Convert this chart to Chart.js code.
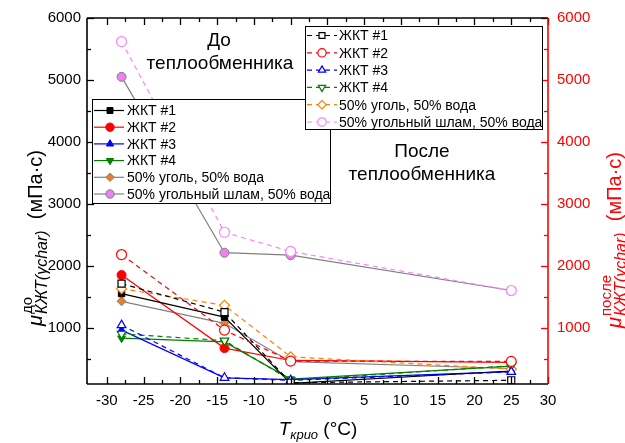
<!DOCTYPE html>
<html>
<head>
<meta charset="utf-8">
<script src="https://cdn.jsdelivr.net/npm/chart.js@4/dist/chart.umd.min.js"></script>
<style>
  html, body { margin: 0; padding: 0; background: #fff; }
  #wrap { width: 625px; height: 443px; position: relative; }
</style>
</head>
<body>
<div id="wrap"><canvas id="chart"></canvas></div>
<script>
const temps = [-28, -14, -5, 25];
const names = ["ЖКТ #1", "ЖКТ #2", "ЖКТ #3", "ЖКТ #4", "50% уголь, 50% вода", "50% угольный шлам, 50% вода"];

// вязкость до теплообменника, мПа·с
const before1 = [1550, 1170, 100, 300];
const before2 = [1850, 670, 470, 440];
const before3 = [960, 190, 160, 290];
const before4 = [830, 770, 170, 380];
const beforeCoal = [1425, 1070, 450, 340];
const beforeSlurry = [5050, 2210, 2170, 1600];

// вязкость после теплообменника, мПа·с
const after1 = [1710, 1250, 110, 150];
const after2 = [2180, 960, 460, 455];
const after3 = [1040, 190, 150, 285];
const after4 = [900, 790, 150, 385];
const afterCoal = [1630, 1360, 530, 330];
const afterSlurry = [5620, 2540, 2230, 1600];

const xTicks = [-30, -25, -20, -15, -10, -5, 0, 5, 10, 15, 20, 25, 30];
const yTicks = [1000, 2000, 3000, 4000, 5000, 6000];

const FONT = '"Liberation Sans", Arial, sans-serif';

function pts(vals) {
  return vals.map((v, i) => ({ x: temps[i], y: v }));
}

// solid lines + filled markers
function solid(label, vals, color, style, opts) {
  return Object.assign({
    label, data: pts(vals), group: 'before',
    borderColor: color, backgroundColor: color,
    pointBackgroundColor: color, pointBorderColor: color,
    pointStyle: style, pointRadius: 4.5, pointBorderWidth: 1,
    borderWidth: 1.2, showLine: true, tension: 0
  }, opts || {});
}

// dashed lines + open markers
function dashed(label, vals, color, style, opts) {
  return Object.assign({
    label, data: pts(vals), group: 'after',
    borderColor: color, backgroundColor: '#fff',
    pointBackgroundColor: '#fff', pointBorderColor: color,
    pointStyle: style, pointRadius: 5, pointBorderWidth: 1.2,
    borderWidth: 1.2, borderDash: [5, 4], showLine: true, tension: 0
  }, opts || {});
}

const datasets = [
  dashed(names[0], after1, '#000000', 'rect'),
  dashed(names[1], after2, '#ff0000', 'circle'),
  dashed(names[2], after3, '#0000ff', 'triangle'),
  dashed(names[3], after4, '#008000', 'triangle', { pointRotation: 180 }),
  dashed(names[4], afterCoal, '#ff8000', 'rectRot'),
  dashed(names[5], afterSlurry, '#ff80ff', 'circle'),
  solid(names[0], before1, '#000000', 'rect'),
  solid(names[1], before2, '#ff0000', 'circle'),
  solid(names[2], before3, '#0000ff', 'triangle'),
  solid(names[3], before4, '#008000', 'triangle', { pointRotation: 180 }),
  solid(names[4], beforeCoal, '#808080', 'rectRot', { pointBackgroundColor: '#f07d1e', backgroundColor: '#f07d1e' }),
  solid(names[5], beforeSlurry, '#808080', 'circle', { pointBackgroundColor: '#f07ff0', backgroundColor: '#f07ff0' })
];

function drawMarker(ctx, ds, x, y, r) {
  ctx.save();
  ctx.setLineDash([]);
  ctx.fillStyle = ds.pointBackgroundColor;
  ctx.strokeStyle = ds.pointBorderColor;
  ctx.lineWidth = ds.pointBorderWidth;
  Chart.helpers.drawPoint(ctx, {
    pointStyle: ds.pointStyle, rotation: ds.pointRotation || 0,
    radius: r, borderWidth: ds.pointBorderWidth
  }, x, y);
  ctx.restore();
}

function legendBox(ctx, list, box) {
  ctx.save();
  ctx.fillStyle = '#fff';
  ctx.fillRect(box.x, box.y, box.w, box.h);
  ctx.strokeStyle = '#000';
  ctx.lineWidth = 1;
  ctx.strokeRect(box.x + 0.5, box.y + 0.5, box.w, box.h);
  list.forEach((ds, i) => {
    const ry = box.row0 + i * box.step;
    ctx.strokeStyle = ds.borderColor;
    ctx.lineWidth = 1.2;
    ctx.setLineDash(ds.borderDash || []);
    ctx.beginPath();
    ctx.moveTo(box.x + 2, ry);
    ctx.lineTo(box.x + box.lineW, ry);
    ctx.stroke();
    drawMarker(ctx, ds, box.x + box.mark, ry, 4.2);
    ctx.setLineDash([]);
    ctx.fillStyle = '#000';
    ctx.font = '14px ' + FONT;
    ctx.textBaseline = 'middle';
    ctx.fillText(ds.label, box.x + box.text, ry + 1);
  });
  ctx.restore();
}

// μ with stacked superscript / subscript and units
function muTitle(ctx, sup, cx, cy, color) {
  const big = '20px ' + FONT, bigIt = 'italic 20px ' + FONT;
  const sm = '15px ' + FONT, smIt = 'italic 16px ' + FONT;
  const m = (t, f) => { ctx.font = f; return ctx.measureText(t).width; };
  const wMu = m('μ', bigIt) + 1;
  const wSub = m('КЖТ', smIt) + m('(γchar)', smIt);
  const wSup = m(sup, sm);
  const wUnit = m('  (мПа·с)', big);
  const total = wMu + Math.max(wSub, wSup) + wUnit;
  ctx.save();
  ctx.translate(cx, cy);
  ctx.rotate(-Math.PI / 2);
  ctx.fillStyle = color;
  ctx.textBaseline = 'alphabetic';
  let x = -total / 2;
  ctx.font = bigIt; ctx.fillText('μ', x, 0); x += wMu;
  ctx.font = sm; ctx.fillText(sup, x, -10);
  ctx.font = smIt; ctx.fillText('КЖТ', x, 5);
  ctx.fillText('(γchar)', x + m('КЖТ', smIt), 5);
  x += Math.max(wSub, wSup);
  ctx.font = big; ctx.fillText('  (мПа·с)', x, 0);
  ctx.restore();
}

const decor = {
  id: 'decor',
  afterDatasetsDraw(chart) {
    const { ctx, chartArea: a, scales } = chart;
    const xs = scales.x, ys = scales.y;
    ctx.save();
    ctx.lineCap = 'butt';
    // ticks pointing inside the frame
    const tick = (x1, y1, x2, y2, c) => {
      ctx.strokeStyle = c; ctx.beginPath(); ctx.moveTo(x1, y1); ctx.lineTo(x2, y2); ctx.stroke();
    };
    ctx.lineWidth = 1.3;
    for (let v = -30; v <= 30; v += 2.5) {
      const px = Math.round(xs.getPixelForValue(v)) + 0.5;
      const len = v % 5 === 0 ? 7 : 4;
      tick(px, a.bottom, px, a.bottom - len, '#000');
      tick(px, a.top, px, a.top + len, '#000');
    }
    for (let v = 500; v <= 6000; v += 500) {
      const py = Math.round(ys.getPixelForValue(v)) + 0.5;
      const len = v % 1000 === 0 ? 7 : 4;
      tick(a.left, py, a.left + len, py, '#000');
      tick(a.right, py, a.right - len, py, '#ff0000');
    }
    // frame
    ctx.lineWidth = 1.6;
    tick(a.left, a.bottom, a.right, a.bottom, '#000');
    tick(a.left, a.top, a.right, a.top, '#000');
    tick(a.left, a.top, a.left, a.bottom, '#000');
    tick(a.right, a.top, a.right, a.bottom, '#ff0000');
    ctx.restore();
  },
  afterDraw(chart) {
    const ctx = chart.ctx;
    const dss = chart.data.datasets;
    ctx.save();
    ctx.fillStyle = '#000';
    ctx.textAlign = 'center';
    ctx.textBaseline = 'alphabetic';
    ctx.font = '19px ' + FONT;
    ctx.fillText('До', 219, 46);
    ctx.fillText('теплообменника', 220, 69);
    ctx.fillText('После', 422, 157);
    ctx.fillText('теплообменника', 422, 180);
    ctx.textAlign = 'left';

    // x axis title
    const tIt = 'italic 19px ' + FONT, sIt = 'italic 13px ' + FONT, n = '19px ' + FONT;
    ctx.font = tIt; const w1 = ctx.measureText('T').width;
    ctx.font = sIt; const w2 = ctx.measureText('крио').width;
    ctx.font = n; const w3 = ctx.measureText(' (°C)').width;
    let x = 318 - (w1 + w2 + w3) / 2;
    ctx.font = tIt; ctx.fillText('T', x, 435); x += w1;
    ctx.font = sIt; ctx.fillText('крио', x, 439); x += w2;
    ctx.font = n; ctx.fillText(' (°C)', x, 435);
    ctx.restore();

    muTitle(ctx, 'до', 42, 238, '#000');
    muTitle(ctx, 'после', 621, 240, '#ff0000');

    legendBox(ctx, dss.filter(d => d.group === 'before'),
      { x: 92, y: 99, w: 238, h: 104, row0: 110.5, step: 16.7, lineW: 32, mark: 18, text: 35 });
    legendBox(ctx, dss.filter(d => d.group === 'after'),
      { x: 305, y: 26, w: 237, h: 103, row0: 35.5, step: 17.3, lineW: 32, mark: 17, text: 34 });
  }
};

const tickFont = { family: FONT, size: 15 };

new Chart(document.getElementById('chart'), {
  type: 'scatter',
  data: { datasets },
  options: {
    responsive: true,
    maintainAspectRatio: false,
    animation: false,
    layout: { padding: { top: 16, left: 0, right: 0, bottom: 0 } },
    plugins: { legend: { display: false }, tooltip: { enabled: false } },
    scales: {
      x: {
        type: 'linear', min: -32.7, max: 30,
        grid: { display: false, drawTicks: false },
        border: { display: false },
        afterBuildTicks: s => { s.ticks = xTicks.map(v => ({ value: v })); },
        afterFit: s => { s.height = 59; },
        ticks: { font: tickFont, color: '#000', padding: 8, maxRotation: 0, autoSkip: false, callback: v => String(v) }
      },
      y: {
        type: 'linear', position: 'left', min: 90, max: 6000,
        grid: { display: false, drawTicks: false },
        border: { display: false },
        afterBuildTicks: s => { s.ticks = yTicks.map(v => ({ value: v })); },
        afterFit: s => { s.width = 87; },
        ticks: { font: tickFont, color: '#000', padding: 6, callback: v => String(v) }
      },
      y2: {
        type: 'linear', position: 'right', min: 90, max: 6000,
        grid: { display: false, drawTicks: false },
        border: { display: false },
        afterBuildTicks: s => { s.ticks = yTicks.map(v => ({ value: v })); },
        afterFit: s => { s.width = 77; },
        ticks: { font: tickFont, color: '#ff0000', padding: 9, callback: v => String(v) }
      }
    }
  },
  plugins: [decor]
});
</script>
</body>
</html>
